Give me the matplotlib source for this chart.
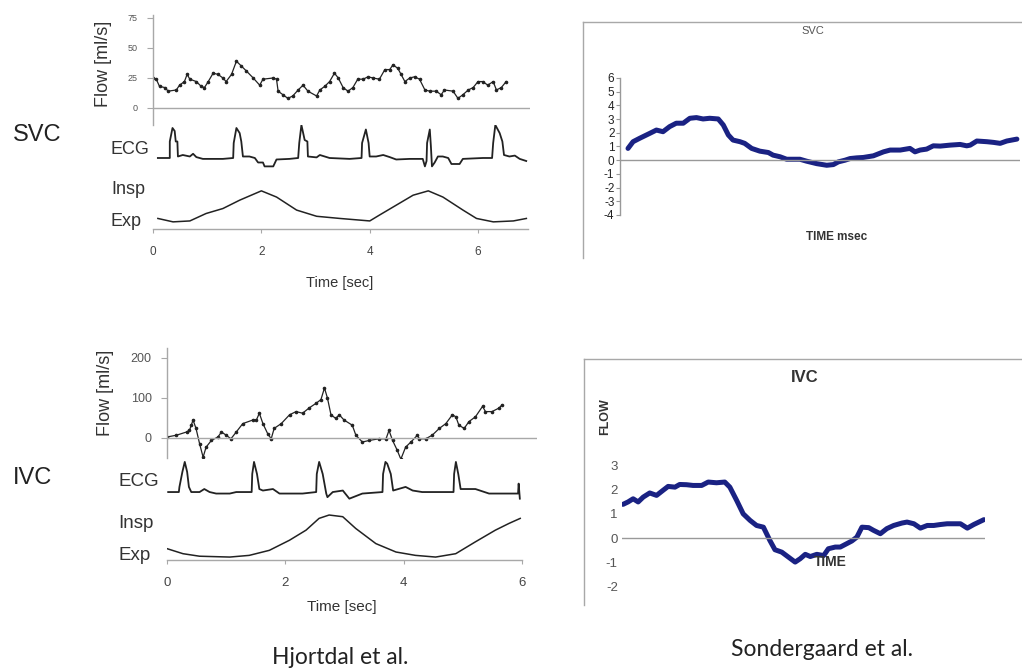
import matplotlib.pyplot as plt
import numpy as np

plt.rcParams['font.family'] = ['Liberation Sans', 'DejaVu Sans']
plt.rcParams['axes.unicode_minus'] = False

# ---- Hjortdal et al., SVC ----
svc_flow_t = [0.00, 0.06, 0.12, 0.22, 0.28, 0.43, 0.49, 0.58, 0.63, 0.68, 0.80, 0.89, 0.95, 1.02,
              1.11, 1.20, 1.29, 1.35, 1.45, 1.54, 1.63, 1.72, 1.85, 1.97, 2.03, 2.22, 2.28, 2.31,
              2.40, 2.49, 2.58, 2.68, 2.77, 2.86, 3.02, 3.08, 3.17, 3.26, 3.35, 3.42, 3.51, 3.60,
              3.69, 3.78, 3.88, 3.97, 4.06, 4.18, 4.28, 4.37, 4.43, 4.52, 4.58, 4.65, 4.74, 4.83,
              4.92, 5.02, 5.11, 5.23, 5.32, 5.38, 5.54, 5.63, 5.72, 5.82, 5.91, 6.00, 6.09, 6.18,
              6.28, 6.34, 6.43, 6.52]
svc_flow = [25, 24, 18, 17, 14, 15, 19, 22, 28, 24, 22, 18, 17, 22,
            29, 28, 25, 22, 28, 39, 35, 31, 25, 19, 24, 25, 24, 14,
            11, 8, 10, 15, 19, 14, 10, 15, 18, 22, 29, 25, 17, 14,
            17, 24, 24, 26, 25, 24, 32, 32, 36, 33, 28, 22, 25, 26,
            24, 15, 14, 14, 11, 15, 14, 8, 11, 15, 17, 22, 22, 19,
            22, 15, 17, 22]

svc_ecg_t = [0.09, 0.31, 0.31, 0.36, 0.40, 0.42, 0.45, 0.46, 0.55, 0.68, 0.74, 0.80, 0.92, 1.29,
             1.48, 1.49, 1.54, 1.60, 1.63, 1.66, 1.78, 1.88, 1.94, 2.03, 2.06, 2.22, 2.28, 2.52,
             2.68, 2.70, 2.74, 2.80, 2.85, 2.86, 3.02, 3.08, 3.17, 3.26, 3.63,
             3.85, 3.86, 3.93, 3.98, 4.00, 4.12, 4.25, 4.37, 4.49, 4.74, 4.98,
             5.02, 5.05, 5.06, 5.11, 5.13, 5.15, 5.20, 5.26, 5.35, 5.45, 5.51, 5.66, 5.72, 6.09,
             6.26, 6.28, 6.32, 6.40, 6.45, 6.48, 6.58, 6.68, 6.77, 6.89]
svc_ecg = [0, 0, 0.55, 1.0, 0.9, 0.55, 0.55, 0.05, 0.1, 0.05, 0.14, 0.03, -0.03, -0.03,
           0, 0.5, 1.0, 0.83, 0.55, 0.05, 0.05, 0.0, -0.15, -0.15, -0.28, -0.28, -0.05, -0.03,
           0, 0.5, 1.1, 0.6, 0.55, 0.05, 0.02, 0.1, 0.05, 0.0, -0.03,
           0, 0.5, 0.95, 0.5, 0.05, 0.05, 0.1, 0.03, -0.05, -0.03, -0.03,
           -0.28, -0.1, 0.5, 0.95, 0.4, -0.28, -0.15, 0.05, 0.05, 0.0, -0.2, -0.2, -0.03, 0.0,
           0, 0.5, 1.1, 0.83, 0.55, 0.1, 0.05, 0.08, -0.03, -0.1]

svc_resp_t = [0.09, 0.37, 0.68, 0.98, 1.29, 1.60, 2.00, 2.28, 2.65, 3.02, 3.45, 4.00, 4.18,
              4.49, 4.80, 5.08, 5.35, 5.72, 5.97, 6.28, 6.65, 6.89]
svc_resp = [0.11, 0, 0.03, 0.27, 0.43, 0.7, 1.0, 0.8, 0.38, 0.18, 0.11, 0.03, 0.22,
            0.54, 0.86, 1.0, 0.8, 0.38, 0.11, 0, 0.03, 0.11]

# ---- Hjortdal et al., IVC ----
ivc_flow_t = [0.00, 0.16, 0.33, 0.38, 0.41, 0.44, 0.49, 0.55, 0.61, 0.66, 0.75, 0.86, 0.92, 1.00,
              1.08, 1.17, 1.28, 1.45, 1.51, 1.56, 1.62, 1.70, 1.76, 1.81, 1.93, 2.07, 2.18, 2.29,
              2.40, 2.52, 2.60, 2.66, 2.71, 2.77, 2.85, 2.91, 2.99, 3.13, 3.19, 3.30, 3.42, 3.58,
              3.70, 3.75, 3.81, 3.89, 3.95, 4.03, 4.12, 4.23, 4.26, 4.37, 4.48, 4.60, 4.71, 4.82,
              4.88, 4.93, 5.02, 5.10, 5.21, 5.33, 5.38, 5.49, 5.61, 5.66]
ivc_flow = [2.5, 7, 15, 19, 32, 45, 24, -14, -48, -23, -6, 2.5, 15, 7,
            -2, 15, 36, 45, 45, 62, 36, 11, -2, 24, 36, 58, 66, 62,
            75, 87, 96, 125, 100, 58, 49, 58, 45, 32, 7, -10, -6, -2,
            -2, 19, -6, -31, -53, -23, -10, 7, -2, -2, 7, 24, 36, 58,
            53, 32, 24, 41, 53, 79, 66, 66, 75, 83]

ivc_ecg_t = [0.02, 0.20, 0.21, 0.26, 0.30, 0.34, 0.37, 0.41, 0.55, 0.63, 0.72, 0.83, 1.06, 1.17,
             1.43, 1.44, 1.47, 1.52, 1.56, 1.62, 1.79, 1.90, 2.29,
             2.52, 2.53, 2.57, 2.63, 2.69, 2.71, 2.80, 2.97, 3.08, 3.30,
             3.64, 3.65, 3.69, 3.72, 3.78, 3.82, 4.03, 4.15, 4.31,
             4.84, 4.85, 4.88, 4.92, 4.96, 5.21, 5.44, 5.93, 5.94, 5.96]
ivc_ecg = [0.0, 0.0, 0.17, 0.67, 1.0, 0.67, 0.17, 0.0, 0.0, 0.1, 0.0, -0.05, -0.05, 0.0,
           0.0, 0.6, 1.0, 0.6, 0.1, 0.05, 0.1, -0.05, -0.05,
           0.0, 0.6, 1.0, 0.6, -0.05, -0.17, 0.0, 0.05, -0.22, -0.05,
           0.0, 0.6, 1.0, 0.94, 0.6, 0.05, 0.17, 0.05, 0.0,
           0.0, 0.6, 1.0, 0.6, 0.1, 0.1, -0.05, -0.05, 0.28, -0.22]

ivc_resp_t = [0.00, 0.27, 0.55, 1.06, 1.39, 1.73, 2.07, 2.35, 2.57, 2.74, 2.97, 3.19, 3.53,
              3.87, 4.20, 4.54, 4.88, 5.21, 5.55, 5.78, 5.97]
ivc_resp = [0.2, 0.08, 0.02, 0, 0.04, 0.16, 0.4, 0.64, 0.92, 1.0, 0.96, 0.68, 0.32,
            0.12, 0.04, 0, 0.08, 0.36, 0.64, 0.8, 0.92]

time_ticks = [0, 2, 4, 6]

# ---- Sondergaard et al. ----
sg_svc_t = [0, 1.3, 3.0, 5.6, 7.3, 9.0, 10.7, 12.4, 14.2, 15.9, 17.6, 19.3, 21.0, 23.2, 24.5,
            25.8, 27.0, 28.8, 30.0, 31.8, 33.9, 36.1, 37.3, 39.1, 40.8, 42.1, 44.2, 45.9, 48.5,
            51.1, 52.8, 54.1, 55.8, 57.1, 58.8, 60.5, 63.1, 65.7, 67.4, 70.0, 72.5, 73.8, 75.1,
            76.8, 78.5, 80.3, 82.8, 85.4, 87.1, 88.0, 89.7, 92.3, 94.0, 95.7, 97.4, 100]
sg_svc = [0.86, 1.35, 1.6, 1.96, 2.2, 2.08, 2.45, 2.7, 2.7, 3.06, 3.11, 3.01, 3.06, 3.01, 2.57,
          1.84, 1.47, 1.35, 1.23, 0.86, 0.66, 0.56, 0.37, 0.25, 0.07, 0.07, 0.07, -0.07, -0.25,
          -0.37, -0.32, -0.12, 0, 0.12, 0.17, 0.2, 0.32, 0.61, 0.74, 0.74, 0.86, 0.61, 0.74,
          0.81, 1.05, 1.03, 1.1, 1.15, 1.05, 1.1, 1.4, 1.35, 1.3, 1.23, 1.4, 1.54]

sg_ivc_t = [0, 1.4, 2.8, 4.2, 5.6, 7.4, 9.3, 11.1, 12.5, 14.4, 15.7, 17.6, 19.4, 21.8, 23.6,
            25.9, 28.2, 29.6, 31.5, 33.3, 35.2, 37.0, 38.9, 40.7, 42.1, 44.0, 45.8, 47.7, 49.1,
            50.5, 51.9, 53.7, 55.6, 56.9, 58.8, 60.2, 62.0, 63.4, 64.8, 66.2, 68.1, 69.4, 71.3,
            73.1, 75.0, 77.3, 78.7, 80.6, 82.4, 84.3, 86.1, 88.0, 89.8, 91.7, 93.5, 95.4, 97.2, 100]
sg_ivc = [1.39, 1.49, 1.62, 1.49, 1.69, 1.86, 1.76, 1.97, 2.13, 2.1, 2.21, 2.2, 2.17, 2.17, 2.31,
          2.28, 2.31, 2.1, 1.55, 1.0, 0.73, 0.52, 0.45, -0.1, -0.48, -0.58, -0.78, -0.99, -0.85,
          -0.67, -0.76, -0.67, -0.72, -0.44, -0.37, -0.37, -0.23, -0.12, 0.04, 0.45, 0.43, 0.32,
          0.18, 0.39, 0.52, 0.62, 0.66, 0.59, 0.41, 0.52, 0.52, 0.56, 0.59, 0.59, 0.59, 0.41, 0.56, 0.76]

W, H = 1022, 671
fig = plt.figure(figsize=(W / 100, H / 100), dpi=100)

AX_GREY = '#a8a8a8'
TRACE = '#222222'
NAVY = '#1a2283'


def box(x0, y0, x1, y1):
    # axes placed by pixel corners (top-left origin)
    ax = fig.add_axes([x0 / W, 1 - y1 / H, (x1 - x0) / W, (y1 - y0) / H])
    ax.patch.set_alpha(0)
    return ax


def label(x, y, s, **kw):
    kw.setdefault('ha', 'left')
    kw.setdefault('va', 'center')
    fig.text(x / W, 1 - y / H, s, **kw)


def hide(ax, keep=()):
    for k, sp in ax.spines.items():
        if k in keep:
            sp.set_color(AX_GREY)
            sp.set_linewidth(1)
        else:
            sp.set_visible(False)


def hjortdal(flow_box, flow_lim, flow_ticks, flow_fs, ecg_box, ecg_lim, resp_box, resp_lim,
             ft, fv, et, ev, rt, rv, xmax_flow, xmax_resp, tick_fs):
    ax = box(*flow_box)
    ax.plot(ft, fv, color=TRACE, lw=0.9, marker='o', ms=1.6)
    ax.axhline(0, color=AX_GREY, lw=1)
    ax.set_xlim(0, xmax_flow)
    ax.set_ylim(*flow_lim)
    hide(ax, keep=('left',))
    ax.set_xticks([])
    ax.set_yticks(flow_ticks)
    ax.tick_params(axis='y', length=4, color=AX_GREY, labelsize=flow_fs, labelcolor='#555555', pad=7)

    ax = box(*ecg_box)
    ax.plot(et, ev, color=TRACE, lw=1.3)
    ax.set_xlim(0, xmax_flow)
    ax.set_ylim(*ecg_lim)
    ax.axis('off')

    ax = box(*resp_box)
    ax.plot(rt, rv, color=TRACE, lw=1.1)
    ax.set_xlim(0, xmax_resp)
    ax.set_ylim(*resp_lim)
    hide(ax, keep=('bottom',))
    ax.set_yticks([])
    ax.set_xticks(time_ticks)
    ax.tick_params(axis='x', length=3, color=AX_GREY, labelsize=tick_fs, labelcolor='#444444', pad=9)


# SVC (top-left)
hjortdal((153, 15, 530, 125), (-14.2, 77.5), [0, 25, 50, 75], 6.5,
         (153, 125, 530, 175), (-0.567, 1.1), (153, 180, 528, 229), (-0.23, 1.35),
         svc_flow_t, svc_flow, svc_ecg_t, svc_ecg, svc_resp_t, svc_resp, 6.96, 6.92, 8.5)
label(103, 64, 'Flow [ml/s]', rotation=90, ha='center', fontsize=13, color='#333333')
label(111, 150, 'ECG', fontsize=13, color='#333333')
label(111, 190, 'Insp', fontsize=13, color='#333333')
label(111, 222, 'Exp', fontsize=13, color='#333333')
label(340, 283, 'Time [sec]', ha='center', fontsize=10.5, color='#333333')
label(13, 135, 'SVC', fontsize=17, color='#222222')

# IVC (bottom-left)
hjortdal((167, 348, 537, 458), (-50, 225), [0, 100, 200], 9,
         (167, 458, 537, 505), (-0.43, 1.13), (167, 508, 522, 560), (-0.07, 1.167),
         ivc_flow_t, ivc_flow, ivc_ecg_t, ivc_ecg, ivc_resp_t, ivc_resp, 6.25, 6.0, 9.5)
label(105, 393, 'Flow [ml/s]', rotation=90, ha='center', fontsize=13, color='#333333')
label(118, 482, 'ECG', fontsize=13.5, color='#333333')
label(118, 523, 'Insp', fontsize=13.5, color='#333333')
label(118, 555, 'Exp', fontsize=13.5, color='#333333')
label(342, 607, 'Time [sec]', ha='center', fontsize=11, color='#333333')
label(13, 478, 'IVC', fontsize=17, color='#222222')

# Sondergaard SVC (top-right)
frame = box(583, 22, 1030, 258)
hide(frame, keep=('top', 'left'))
frame.set_xticks([])
frame.set_yticks([])

ax = box(620, 78, 1020, 215)
ax.plot(sg_svc_t, sg_svc, color=NAVY, lw=3.6, solid_capstyle='round')
ax.axhline(0, color='#999999', lw=1)
ax.set_xlim(-2.06, 100.8)
ax.set_ylim(-4, 6)
hide(ax, keep=('left',))
ax.spines['left'].set_color('#999999')
ax.set_xticks([])
ax.set_yticks(range(-4, 7))
ax.tick_params(axis='y', length=3, color='#999999', labelsize=8.5, labelcolor='#222222', pad=1)
label(813, 31, 'SVC', ha='center', fontsize=8, color='#555555')
label(837, 237, 'TIME msec', ha='center', fontsize=8.5, fontweight='bold', color='#333333')

# Sondergaard IVC (bottom-right)
frame = box(584, 359, 1030, 605)
hide(frame, keep=('top', 'left'))
frame.set_xticks([])
frame.set_yticks([])

ax = box(622, 459, 985, 598)
ax.plot(sg_ivc_t, sg_ivc, color=NAVY, lw=3.6, solid_capstyle='round')
ax.axhline(0, color='#999999', lw=1)
ax.set_xlim(-0.28, 100.3)
ax.set_ylim(-2.47, 3.26)
hide(ax)
ax.set_xticks([])
ax.set_yticks(range(-2, 4))
ax.tick_params(axis='y', length=0, labelsize=9.5, labelcolor='#555555', pad=3)
label(805, 378, 'IVC', ha='center', fontsize=12, fontweight='bold', color='#333333')
label(605, 417, 'FLOW', ha='center', rotation=90, fontsize=9, fontweight='bold', color='#333333')
label(830, 562, 'TIME', ha='center', fontsize=10, fontweight='bold', color='#333333')

# captions
label(340, 657, 'Hjortdal et al.', ha='center', fontsize=16.5, family=['Lato', 'DejaVu Sans'], color='#222222')
label(822, 650, 'Sondergaard et al.', ha='center', fontsize=16.5, family=['Lato', 'DejaVu Sans'], color='#222222')

fig.savefig('out.png', dpi=100)
